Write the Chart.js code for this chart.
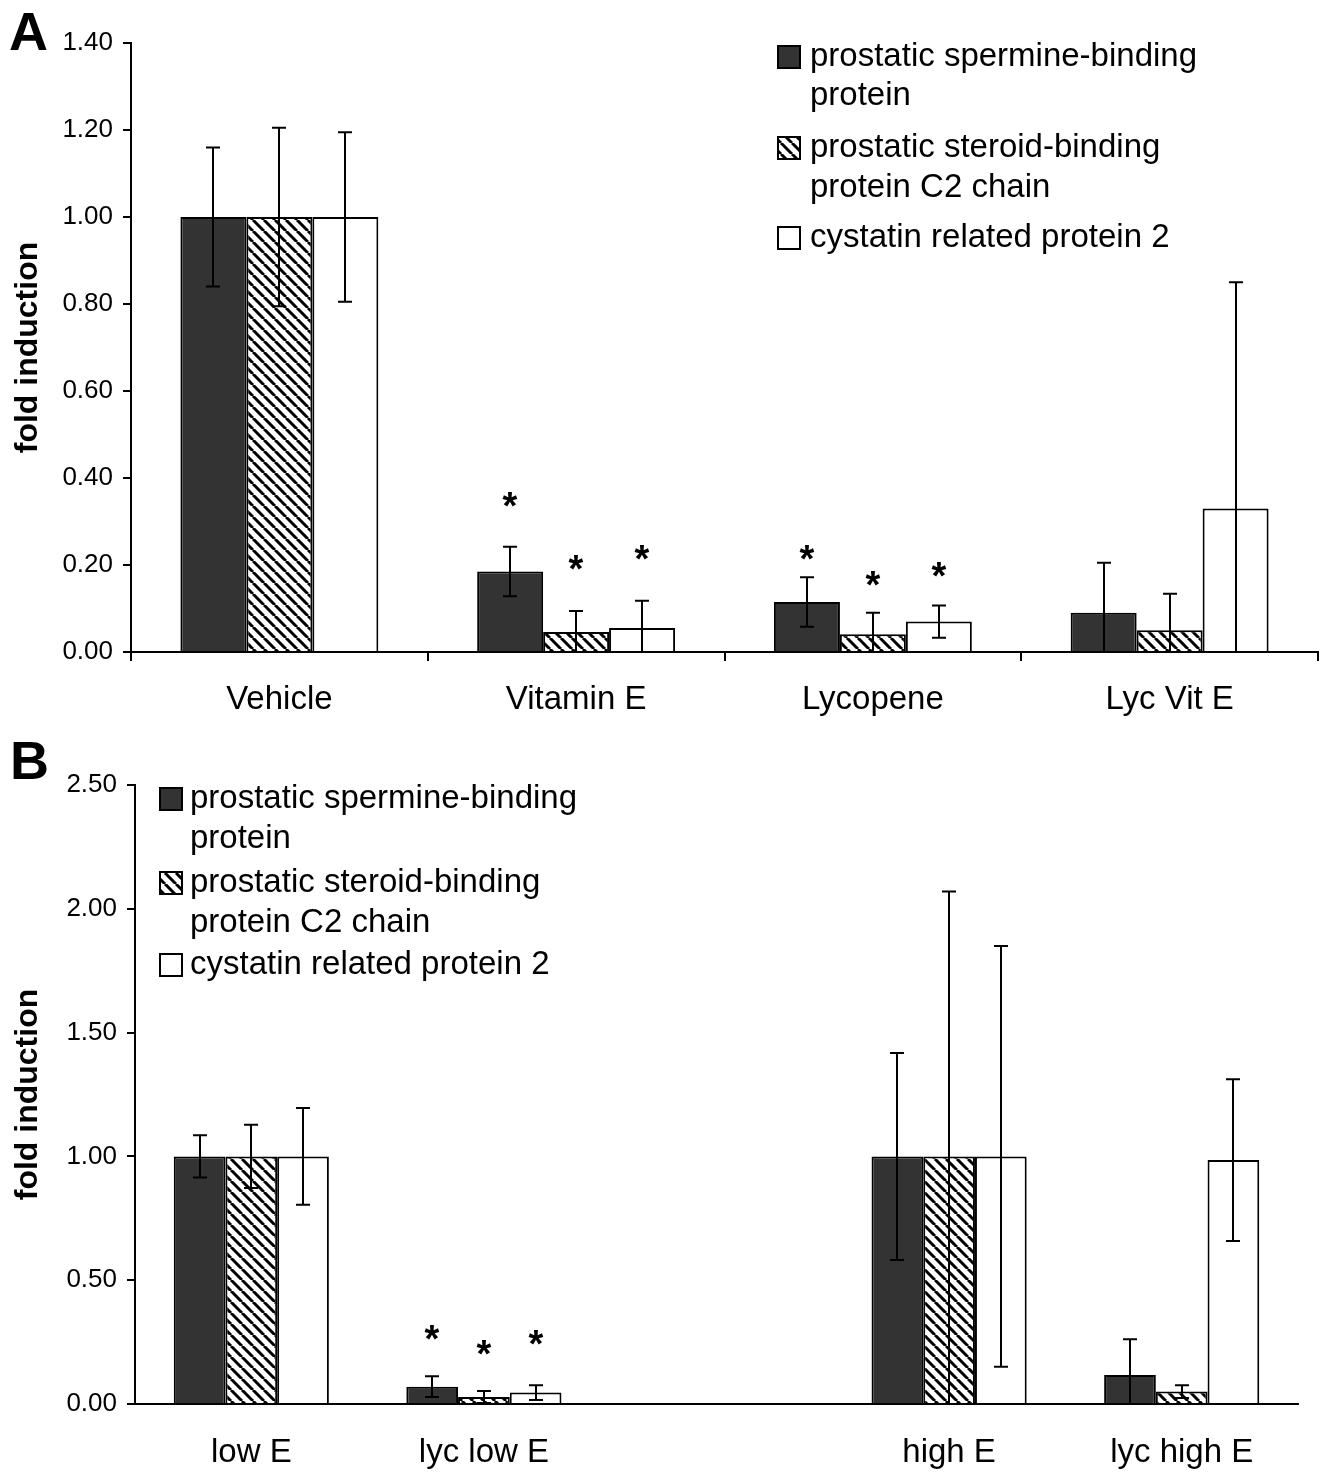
<!DOCTYPE html>
<html><head><meta charset="utf-8">
<script src="https://cdn.jsdelivr.net/npm/chart.js@4.4.1/dist/chart.umd.min.js"></script>
<style>
html,body{margin:0;padding:0;background:#fff;}
body{width:1323px;height:1473px;position:relative;overflow:hidden;font-family:'Liberation Sans',Arial,sans-serif;}
.wrap{position:absolute;left:0;width:1323px;}
#wa{top:0;height:730px;}
#wb{top:730px;height:743px;}
.panel{position:absolute;font:bold 54px 'Liberation Sans',Arial,sans-serif;color:#000;line-height:1;}
</style></head><body>
<div class="wrap" id="wa"><canvas id="ca" width="1323" height="730"></canvas></div>
<div class="wrap" id="wb"><canvas id="cb" width="1323" height="743"></canvas></div>
<div class="panel" style="left:9px;top:4px">A</div>
<div class="panel" style="left:10px;top:733px">B</div>
<script>
// ---------- data ----------
const seriesLines = [['prostatic spermine-binding','protein'],['prostatic steroid-binding','protein C2 chain'],['cystatin related protein 2']];
const yTitle = 'fold induction';

// Panel A
const catsA = ['Vehicle','Vitamin E','Lycopene','Lyc Vit E'];
const spermineA = [1.00, 0.185, 0.115, 0.09];
const spermineErrA = [0.16, 0.057, 0.057, 0.115];
const steroidA = [1.00, 0.046, 0.041, 0.05];
const steroidErrA = [0.205, 0.048, 0.049, 0.084];
const cystatinA = [1.00, 0.055, 0.07, 0.33];
const cystatinErrA = [0.195, 0.063, 0.037, 0.52];
const starsSpermineA = [null, 0.35, 0.228, null];
const starsSteroidA = [null, 0.205, 0.17, null];
const starsCystatinA = [null, 0.228, 0.189, null];
const yTicksA = [0, 0.2, 0.4, 0.6, 0.8, 1.0, 1.2, 1.4];

// Panel B
const catsB = ['low E','lyc low E','','high E','lyc high E'];
const spermineB = [1.00, 0.07, null, 1.00, 0.117];
const spermineErrB = [0.085, 0.042, null, 0.418, 0.145];
const steroidB = [1.00, 0.028, null, 1.00, 0.05];
const steroidErrB = [0.128, 0.024, null, 1.07, 0.026];
const cystatinB = [1.00, 0.046, null, 1.00, 0.985];
const cystatinErrB = [0.195, 0.03, null, 0.85, 0.327];
const starsSpermineB = [null, 0.287, null, null, null];
const starsSteroidB = [null, 0.23, null, null, null];
const starsCystatinB = [null, 0.27, null, null, null];
const yTicksB = [0, 0.5, 1.0, 1.5, 2.0, 2.5];

// ---------- styles ----------
const FONT = "'Liberation Sans', Arial, sans-serif";
function makeHatch(){
  const s = 11, c = document.createElement('canvas');
  c.width = s; c.height = s;
  const g = c.getContext('2d');
  g.fillStyle = '#fff'; g.fillRect(0,0,s,s);
  g.strokeStyle = '#000'; g.lineWidth = 3;
  g.beginPath();
  for (let k=-1;k<=1;k++){ g.moveTo(k*s,0); g.lineTo(k*s+s,s); }
  g.stroke();
  return c;
}
const hatchCanvas = makeHatch();

const overlay = {
  id:'overlay',
  afterDatasetsDraw(chart, args, o){
    const ctx = chart.ctx, ys = chart.scales.y;
    ctx.save();
    chart.data.datasets.forEach((ds,i)=>{
      const meta = chart.getDatasetMeta(i);
      meta.data.forEach((el,j)=>{
        const v = ds.data[j]; if (v==null) return;
        const e = ds.errors[j];
        const x = Math.round(el.x);
        const hi = v+e, lo = Math.max(0, v-e);
        const yh = ys.getPixelForValue(hi), yl = ys.getPixelForValue(lo);
        ctx.strokeStyle='#000'; ctx.lineWidth=2;
        ctx.beginPath();
        ctx.moveTo(x,yh); ctx.lineTo(x,yl);
        ctx.moveTo(x-7,yh); ctx.lineTo(x+7,yh);
        if (v-e>0){ ctx.moveTo(x-7,yl); ctx.lineTo(x+7,yl); }
        ctx.stroke();
        const s = ds.stars[j];
        if (s!=null){
          ctx.fillStyle='#000'; ctx.font='bold 38px '+FONT;
          ctx.textAlign='center'; ctx.textBaseline='alphabetic';
          const m = ctx.measureText('*');
          const off = (m.actualBoundingBoxAscent - m.actualBoundingBoxDescent)/2;
          ctx.fillText('*', x, ys.getPixelForValue(s)+off);
        }
      });
    });
    // legend
    const L = o.legend;
    ctx.font = L.size+'px '+FONT; ctx.fillStyle='#000';
    ctx.textAlign='left'; ctx.textBaseline='middle';
    chart.data.datasets.forEach((ds,i)=>{
      const ys2 = L.rows[i];
      const sy = ys2[0]-11;
      ctx.fillStyle = ds.legendFill;
      ctx.fillRect(L.x, sy, 22, 22);
      ctx.strokeStyle='#000'; ctx.lineWidth=2;
      ctx.strokeRect(L.x, sy, 22, 22);
      ctx.fillStyle='#000';
      seriesLines[i].forEach((t,k)=>ctx.fillText(t, L.tx, ys2[k]));
    });
    ctx.restore();
  }
};

function build(canvasId, cats, series, errs, stars, ticks, ymax, geo){
  const ctx = document.getElementById(canvasId).getContext('2d');
  const hatch = ctx.createPattern(hatchCanvas,'repeat');
  const fills = ['#333333', hatch, '#ffffff'];
  const datasets = series.map((d,i)=>({
    label: seriesLines[i].join(' '),
    data: d, errors: errs[i], stars: stars[i],
    backgroundColor: fills[i], legendFill: fills[i],
    borderColor:'#000', borderWidth:2, borderSkipped:'start',
    barPercentage:1.0, categoryPercentage:0.667
  }));
  return new Chart(ctx, {
    type:'bar',
    data:{labels:cats, datasets},
    plugins:[overlay],
    options:{
      responsive:false, animation:false, devicePixelRatio:1,
      layout:{padding:{left:0, right:geo.right, top:geo.top, bottom:0}},
      plugins:{legend:{display:false}, tooltip:{enabled:false}, overlay:{legend:geo.legend}},
      scales:{
        x:{
          type:'category', offset:true,
          grid:{display:true, drawOnChartArea:false, drawTicks:geo.xTicks, tickLength:9, color:'#000', lineWidth:2, offset:true},
          border:{display:true, color:'#000', width:2},
          ticks:{color:'#000', font:{family:FONT, size:33}, padding:geo.xPad, maxRotation:0, autoSkip:false},
          afterFit(s){ s.height = geo.xh; }
        },
        y:{
          min:0, max:ymax,
          afterBuildTicks(s){ s.ticks = ticks.map(v=>({value:v})); },
          grid:{drawOnChartArea:false, drawTicks:true, tickLength:8, color:'#000', lineWidth:2},
          border:{display:true, color:'#000', width:2},
          ticks:{color:'#000', font:{family:FONT, size:26}, padding:10, callback:v=>Number(v).toFixed(2)},
          title:{display:true, text:yTitle, color:'#000', font:{family:FONT, size:32, weight:'bold'}, padding:{top:9,bottom:0}},
          afterFit(s){ s.width = geo.yw; }
        }
      }
    }
  });
}

build('ca', catsA, [spermineA, steroidA, cystatinA], [spermineErrA, steroidErrA, cystatinErrA],
  [starsSpermineA, starsSteroidA, starsCystatinA], yTicksA, 1.4,
  {right:5, top:43, xh:78, yw:131, xTicks:true, xPad:19,
   legend:{x:778, tx:810, size:33, rows:[[57,96],[148,188],[238]]}});

build('cb', catsB, [spermineB, steroidB, cystatinB], [spermineErrB, steroidErrB, cystatinErrB],
  [starsSpermineB, starsSteroidB, starsCystatinB], yTicksB, 2.5,
  {right:25, top:55, xh:69, yw:135, xTicks:false, xPad:29,
   legend:{x:160, tx:190, size:33, rows:[[69,109],[153,193],[235]]}});
</script>
</body></html>
